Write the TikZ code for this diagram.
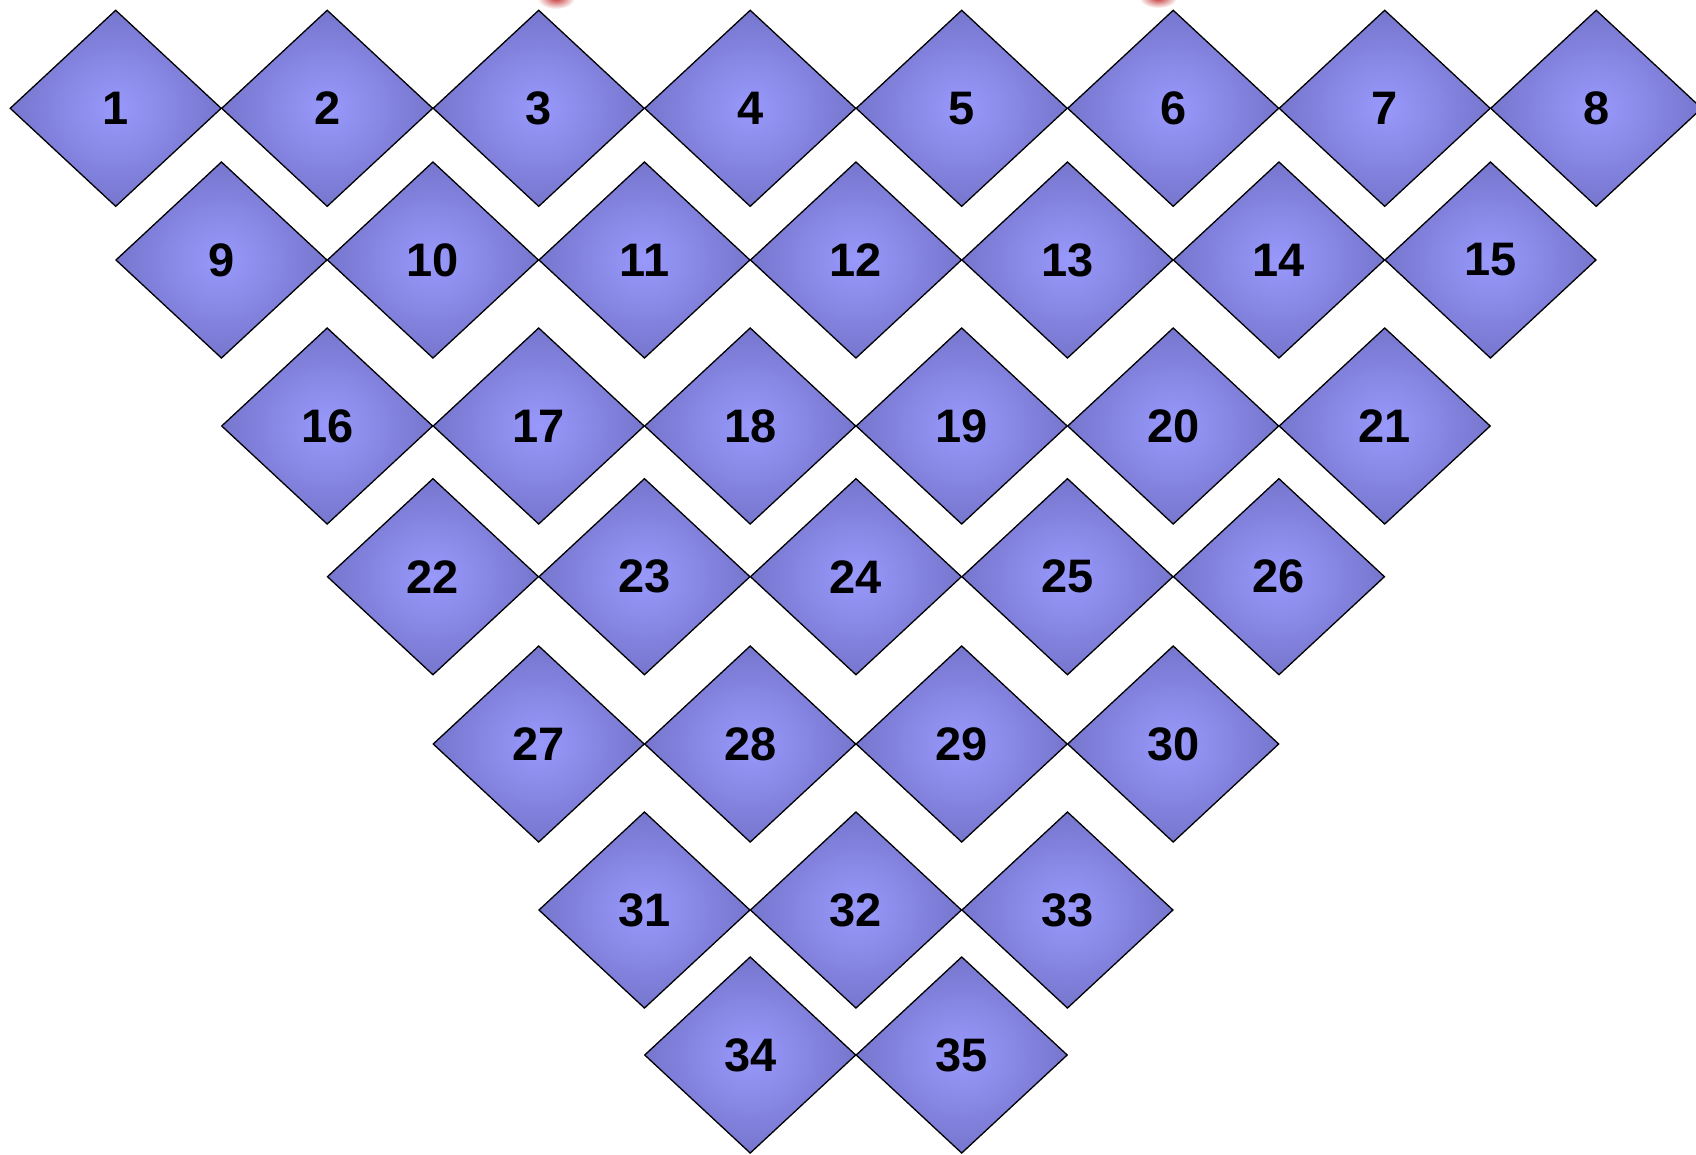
\documentclass[tikz,border=0pt]{standalone}
\usepackage{fontspec}
\setmainfont{Liberation Sans}
\usetikzlibrary{shapes.geometric}
\definecolor{tilein}{RGB}{153,153,252}
\definecolor{tileout}{RGB}{118,118,206}
\definecolor{blobred}{RGB}{196,50,50}
\begin{document}
\begin{tikzpicture}[x=1pt,y=-1pt,
  tile/.style={diamond, draw=black, line width=1.3pt, inner sep=0pt,
    minimum width=211.5pt, minimum height=196.6pt,
    inner color=tilein, outer color=tileout,
    font=\fontsize{47}{47}\selectfont\bfseries}]
\useasboundingbox (0,0) rectangle (1696,1154);
% faint red marks at the top edge
\shade[inner color=blobred, outer color=white] (556,-2) ellipse (19 and 11);
\shade[inner color=blobred, outer color=white] (1158,-2) ellipse (19 and 10);
\foreach \r/\y/\n/\s in {0/108.3/8/1, 1/260/7/9, 2/426/6/16, 3/576.7/5/22, 4/744/4/27, 5/910/3/31, 6/1055/2/34}{
  \foreach \c in {1,...,\n}{
    \pgfmathtruncatemacro\k{\s+\c-1}
    \node[tile] (d\k) at ({115.7+105.75*\r+211.5*(\c-1)}, \y) {\raisebox{-2pt}{\k}};
  }
}
\end{tikzpicture}
\end{document}
